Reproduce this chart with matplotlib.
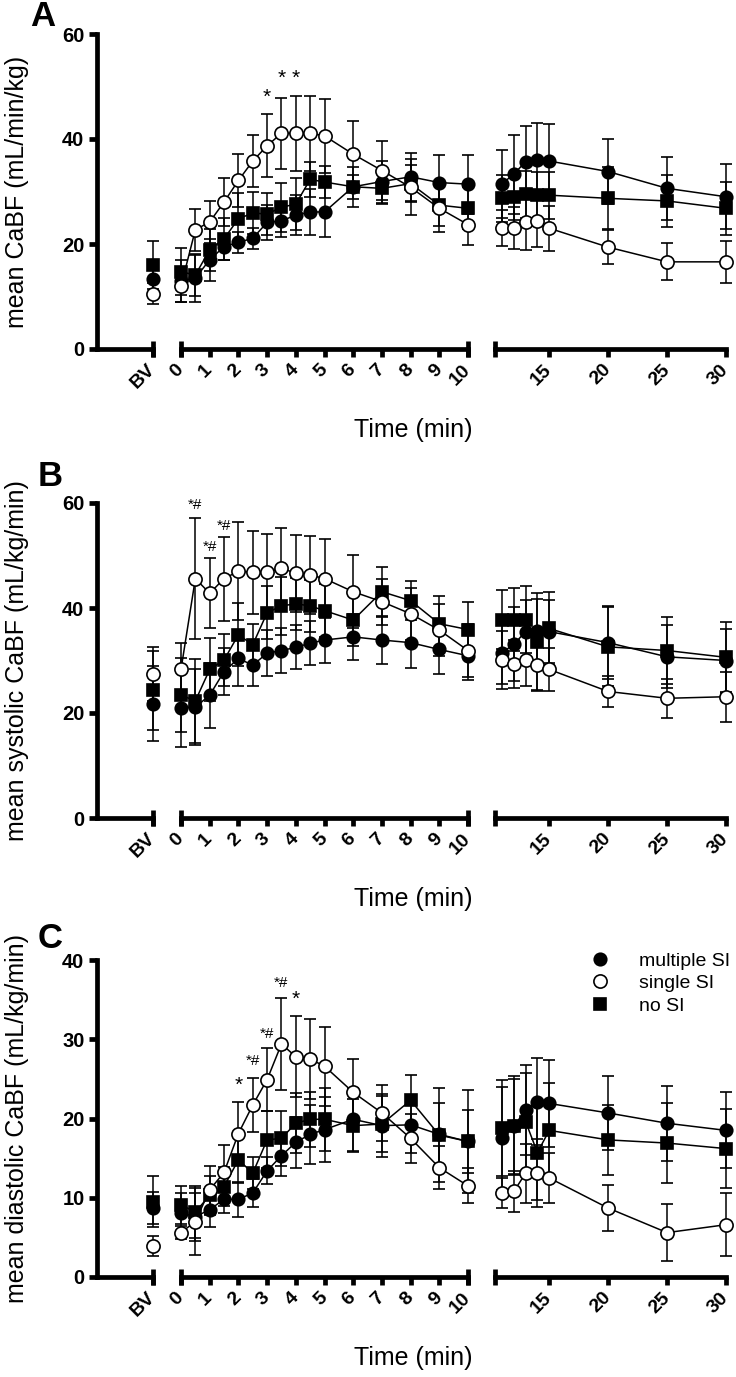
import matplotlib.pyplot as plt
from matplotlib.lines import Line2D

plt.rcParams['font.family'] = ['Liberation Sans', 'DejaVu Sans']

# time points: BV, then 0-10 min, then 11-30 min
times_early = [0, 0.5, 1, 1.5, 2, 2.5, 3, 3.5, 4, 4.5, 5, 6, 7, 8, 9, 10]
times_late = [11, 12, 13, 14, 15, 20, 25, 30]
early_ticks = [0, 1, 2, 3, 4, 5, 6, 7, 8, 9, 10]
late_ticks = [15, 20, 25, 30]
groups = ['multiple SI', 'single SI', 'no SI']

# values: index 0 = BV, 1..16 = times_early, 17..24 = times_late
# panel A: mean CaBF
a_multi = [13.3, 13.0, 13.5, 17.0, 19.5, 20.3, 21.1, 24.1, 24.4, 25.5, 26.1, 26.1, 30.9, 31.9, 32.8, 31.7, 31.4,
           31.5, 33.3, 35.7, 36.0, 35.8, 33.8, 30.6, 29.0]
a_multi_sd = [3.0, 4.0, 4.5, 4.0, 2.5, 2.0, 2.0, 3.3, 3.0, 3.8, 4.4, 4.7, 3.8, 4.0, 4.6, 5.3, 5.6,
              6.5, 7.5, 6.8, 7.1, 7.1, 6.2, 6.0, 6.2]
a_single = [10.5, 12.0, 22.7, 24.2, 28.0, 32.1, 35.8, 38.7, 41.1, 41.1, 41.1, 40.6, 37.1, 34.0, 30.8, 26.8, 23.7,
            23.0, 23.0, 24.2, 24.3, 23.0, 19.4, 16.6, 16.6]
a_single_sd = [2.0, 3.0, 4.0, 4.0, 4.6, 5.0, 5.0, 6.0, 6.8, 7.1, 7.1, 7.0, 6.3, 5.7, 5.3, 4.5, 3.9,
               3.4, 4.0, 5.4, 4.9, 4.3, 3.2, 3.5, 4.0]
a_none = [16.0, 14.7, 14.1, 18.9, 21.0, 24.8, 25.9, 25.7, 27.0, 27.6, 32.3, 31.8, 30.9, 30.6, 31.5, 27.4, 26.8,
          28.7, 29.0, 29.5, 29.3, 29.3, 28.7, 28.2, 26.8]
a_none_sd = [4.6, 4.5, 4.0, 4.0, 4.0, 5.0, 4.0, 4.0, 4.7, 5.0, 3.4, 3.0, 2.3, 3.0, 3.5, 4.0, 4.0,
             4.5, 4.5, 4.5, 4.5, 4.5, 5.9, 5.0, 5.0]

# panel B: mean systolic CaBF
b_multi = [21.8, 20.9, 21.1, 23.4, 27.9, 30.4, 29.1, 31.4, 31.9, 32.5, 33.3, 33.9, 34.5, 33.9, 33.4, 32.1, 30.9,
           31.5, 33.1, 35.5, 35.7, 35.5, 33.4, 30.7, 30.0]
b_multi_sd = [7.2, 7.3, 7.2, 6.2, 4.5, 5.3, 4.0, 4.4, 4.3, 4.2, 4.2, 4.3, 4.4, 4.5, 4.8, 4.7, 4.7,
              6.0, 7.0, 6.0, 6.0, 6.0, 7.0, 6.0, 6.0]
b_single = [27.4, 28.3, 45.6, 42.8, 45.6, 47.0, 46.8, 46.8, 47.6, 46.6, 46.3, 45.6, 43.1, 41.2, 38.9, 35.8, 31.9,
            30.1, 29.3, 30.1, 29.1, 28.3, 24.1, 22.8, 23.1]
b_single_sd = [5.2, 5.0, 11.5, 6.7, 8.0, 9.3, 7.9, 7.3, 7.6, 7.3, 7.4, 7.5, 7.0, 4.4, 5.0, 5.0, 5.0,
               5.6, 4.6, 5.0, 5.0, 4.1, 3.0, 3.7, 4.8]
b_none = [24.3, 23.4, 22.3, 28.3, 30.1, 34.9, 33.0, 39.1, 40.4, 40.8, 40.4, 39.5, 37.7, 43.1, 41.4, 37.0, 35.9,
          37.8, 37.8, 37.8, 33.6, 36.1, 32.6, 31.9, 30.6]
b_none_sd = [7.5, 7.0, 8.0, 6.0, 5.0, 6.0, 4.0, 5.0, 5.5, 5.0, 5.0, 5.0, 5.0, 4.8, 3.7, 5.2, 5.3,
             5.6, 6.0, 6.4, 9.2, 7.0, 7.5, 6.3, 6.8]

# panel C: mean diastolic CaBF
c_multi = [8.7, 8.1, 7.6, 8.5, 9.8, 9.8, 10.6, 13.4, 15.3, 17.0, 18.0, 18.6, 19.9, 19.1, 19.2, 18.0, 17.1,
           17.5, 19.0, 21.1, 22.1, 21.9, 20.7, 19.4, 18.5]
c_multi_sd = [2.0, 2.5, 3.0, 2.2, 1.7, 2.2, 1.8, 1.7, 2.5, 3.2, 3.7, 4.1, 4.0, 4.0, 3.5, 4.0, 4.0,
              6.5, 6.0, 5.7, 5.5, 5.5, 4.7, 4.7, 4.8]
c_single = [3.9, 5.6, 7.0, 11.0, 13.2, 18.1, 21.7, 24.9, 29.4, 27.8, 27.5, 26.6, 23.3, 20.7, 17.5, 13.8, 11.5,
            10.6, 10.8, 13.1, 13.1, 12.5, 8.7, 5.6, 6.6]
c_single_sd = [1.3, 0.8, 4.2, 3.0, 3.5, 4.0, 3.4, 4.0, 5.8, 5.1, 5.1, 5.0, 4.2, 3.5, 3.1, 2.7, 2.2,
               1.9, 2.6, 3.7, 4.3, 3.2, 2.9, 3.6, 4.0]
c_none = [9.5, 9.1, 8.2, 10.3, 11.4, 14.8, 13.1, 17.3, 17.5, 19.4, 19.9, 19.9, 19.1, 19.3, 22.3, 17.9, 17.1,
          18.8, 19.1, 19.6, 15.7, 18.5, 17.3, 16.9, 16.2]
c_none_sd = [3.2, 2.4, 3.3, 2.5, 2.5, 3.0, 2.0, 3.6, 3.5, 3.8, 3.5, 4.0, 3.3, 3.5, 3.2, 5.9, 6.5,
             6.1, 6.2, 6.2, 6.0, 6.0, 4.4, 5.1, 5.0]

# significance marks (time, y, text)
a_marks = [(3, 48.0, '*'), (3.5, 51.6, '*'), (4, 51.6, '*')]
b_marks = [(0.5, 59.6, '*#'), (1, 51.6, '*#'), (1.5, 55.7, '*#')]
c_marks = [(2, 24.2, '*'), (2.5, 27.2, '*#'), (3, 30.7, '*#'), (3.5, 37.1, '*#'), (4, 35.0, '*')]

panels = [
    ('A', 'mean CaBF (mL/min/kg)', 60, [0, 20, 40, 60], (a_multi, a_multi_sd), (a_single, a_single_sd),
     (a_none, a_none_sd), a_marks, 34, 349),
    ('B', 'mean systolic CaBF (mL/kg/min)', 60, [0, 20, 40, 60], (b_multi, b_multi_sd), (b_single, b_single_sd),
     (b_none, b_none_sd), b_marks, 503, 818),
    ('C', 'mean diastolic CaBF (mL/kg/min)', 40, [0, 10, 20, 30, 40], (c_multi, c_multi_sd), (c_single, c_single_sd),
     (c_none, c_none_sd), c_marks, 960, 1277),
]

W, H = 736, 1377
fig = plt.figure(figsize=(W / 100, H / 100), dpi=100)

LW = 3.4
styles = [dict(marker='o', mfc='k', ms=9), dict(marker='o', mfc='white', ms=9.5), dict(marker='s', mfc='k', ms=8.5)]
zorders = [3, 5, 4]


def add_ax(x0, x1, ytop, ybot):
    return fig.add_axes([x0 / W, 1 - ybot / H, (x1 - x0) / W, (ybot - ytop) / H])


def draw_series(ax, x, y, sd, st, z):
    eb = ax.errorbar(x, y, yerr=sd, color='k', mec='k', lw=1.1, elinewidth=1.1, capsize=4, capthick=1.1,
                     mew=1.2, zorder=z, **st)
    eb.lines[0].set_clip_on(False)
    for a in eb.lines[1] + eb.lines[2]:
        a.set_clip_on(False)


for letter, ylab, ymax, yticks, s1, s2, s3, marks, ytop, ybot in panels:
    ax1 = add_ax(97, 153, ytop, ybot)
    ax2 = add_ax(181, 468, ytop, ybot)
    ax3 = add_ax(495, 726, ytop, ybot)

    for (vals, sds), st, z in zip([s1, s2, s3], styles, zorders):
        draw_series(ax1, [0], vals[:1], sds[:1], st, z)
        draw_series(ax2, times_early, vals[1:17], sds[1:17], st, z)
        draw_series(ax3, times_late, vals[17:], sds[17:], st, z)

    ax1.set_xlim(-1, 0)
    ax2.set_xlim(0, 10)
    ax3.set_xlim(10.4, 30)
    for ax in (ax1, ax2, ax3):
        ax.set_ylim(0, ymax)
        ax.patch.set_alpha(0)
        for s in ('top', 'right'):
            ax.spines[s].set_visible(False)
        ax.spines['bottom'].set_linewidth(LW)
        ax.tick_params(axis='x', direction='out', length=6, width=LW, pad=7)
    for ax in (ax2, ax3):
        ax.spines['left'].set_visible(False)
        ax.set_yticks([])

    ax1.spines['left'].set_linewidth(LW)
    ax1.set_yticks(yticks)
    ax1.tick_params(axis='y', direction='out', length=6, width=LW, pad=3, labelsize=14.5)
    for lab in ax1.get_yticklabels():
        lab.set_fontweight('bold')

    ax1.set_xticks([0])
    ax1.set_xticklabels(['BV'])
    ax2.set_xticks(early_ticks)
    ax2.set_xticklabels([str(t) for t in early_ticks])
    ax3.set_xticks(late_ticks)
    ax3.set_xticklabels([str(t) for t in late_ticks])
    for ax in (ax1, ax2, ax3):
        plt.setp(ax.get_xticklabels(), rotation=45, ha='right', va='center', rotation_mode='anchor',
                 fontweight='bold', fontsize=14)

    # segment end bars
    ax1.plot([0], [0], ls='none', marker='|', ms=12, mew=LW, color='k', clip_on=False, zorder=6)
    ax2.plot([0, 10], [0, 0], ls='none', marker='|', ms=12, mew=LW, color='k', clip_on=False, zorder=6)
    ax3.plot([10.4], [0], ls='none', marker='|', ms=12, mew=LW, color='k', clip_on=False, zorder=6)

    for t, yv, txt in marks:
        ax2.text(t, yv, txt, ha='center', va='center', fontsize=15 if txt == '*' else 11)

    fig.text(17 / W, 1 - (ytop + ybot) / 2 / H, ylab, rotation=90, ha='center', va='center', fontsize=18)
    fig.text(413 / W, 1 - (ybot + 81) / H, 'Time (min)', ha='center', va='center', fontsize=18)
    lx = 43 if letter == 'A' else 50
    ly = {'A': 16, 'B': 477, 'C': 938}[letter]
    fig.text(lx / W, 1 - ly / H, letter, ha='center', va='center', fontsize=25, fontweight='bold')

handles = [Line2D([], [], ls='none', color='k', mec='k', mew=1.2, **st) for st in styles]
fig.legend(handles, groups, loc='upper left', bbox_to_anchor=(590 / W, 1 - 952 / H), frameon=False,
           fontsize=14, handlelength=1.0, handletextpad=1.5, labelspacing=0.25, borderpad=0, borderaxespad=0)

fig.savefig('out.png', dpi=100)
